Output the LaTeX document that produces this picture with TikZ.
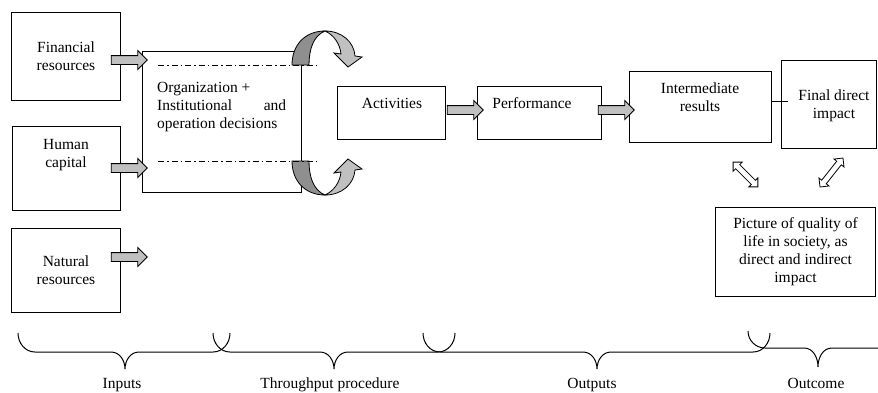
\documentclass[tikz,border=0pt]{standalone}
\usepackage{fontspec}
\setmainfont{Liberation Serif}
\usetikzlibrary{shapes.arrows,positioning}
\definecolor{arrowgray}{RGB}{192,192,192}
\definecolor{darkgray}{RGB}{143,143,143}
\tikzset{
    every node/.style={font=\fontsize{15.5}{18}\selectfont, inner sep=0pt, align=center}
}
\tikzset{
    box/.style={draw, line width=1pt, anchor=north west},
    barrow/.style={single arrow, draw, line width=0.8pt, fill=arrowgray, minimum height=36pt,
        inner xsep=0pt, inner ysep=4pt, single arrow head extend=5pt},
    darrow/.style={double arrow, draw, line width=0.8pt, fill=white, minimum height=35pt,
        inner xsep=0pt, inner ysep=2.5pt, double arrow head extend=3.5pt},
    brc/.style={line width=1pt},
    dashdot/.style={line width=0.8pt, dash pattern=on 6pt off 3pt on 1.5pt off 3pt}
}

\begin{document}
\begin{tikzpicture}[x=1pt, y=1pt]
    \useasboundingbox (0,0) rectangle (878,-392);

    % inputs
    \node (fin) [box, minimum width=109pt, minimum height=88pt] at (11,-12) {Financial\\resources};
    \node (hum) [box, minimum width=108pt, minimum height=84pt] at (12,-126) {};
    \node (humtxt) [anchor=base] at (66,-167) {Human\\capital};
    \node (nat) [box, minimum width=109pt, minimum height=84pt] at (11,-228) {Natural\\resources};

    % throughput
    \node (org) [box, minimum width=159pt, minimum height=141pt] at (142,-51) {};
    \node (orgtxt) [anchor=base west, align=left] at (157,-128)
        {Organization +\\\hbox to 129pt{Institutional\hfill and}\\operation decisions};

    % outputs
    \node (act) [box, minimum width=108pt, minimum height=53pt] at (337,-86) {};
    \node (acttxt) [anchor=base] at (392,-108) {Activities};
    \node (perf) [box, minimum width=124pt, minimum height=53pt] at (477,-86) {};
    \node (perftxt) [anchor=base] at (532,-108) {Performance};
    \node (int) [box, minimum width=142pt, minimum height=71pt] at (629,-71) {};
    \node (inttxt) [anchor=base] at (700,-111) {Intermediate\\results};

    % outcome
    \node (fd) [box, minimum width=95pt, minimum height=88pt] at (781,-60) {};
    \node (fdtxt) [anchor=base] at (834,-118) {Final direct\\impact};
    \node (pic) [box, minimum width=160pt, minimum height=89pt] at (715,-207)
        {Picture of quality of\\life in society, as\\direct and indirect\\impact};

    % block arrows
    \node (a1) [barrow] at (127,-60) {};
    \node (a2) [barrow] at (127,-168) {};
    \node (a3) [barrow] at (127,-257) {};
    \node (a4) [barrow] at (463,-110) {};
    \node (a5) [barrow] at (614,-110) {};

    \draw[line width=1pt] ([yshift=5.5pt]int.east) -- ([xshift=7pt, yshift=3pt]fd.west);

    \node (d1) [darrow, rotate=-45] at (745.5,-174.5) {};
    \node (d2) [darrow, rotate=51.6, minimum height=37pt] at (831.5,-172.5) {};

    % curved arrows
    \draw[line width=0.8pt, fill=darkgray] (292,-65) .. controls (292,-45) and (305,-31) .. (325,-31)
        .. controls (313,-36) and (309,-50) .. (309,-65) -- cycle;
    \draw[line width=0.8pt, fill=arrowgray] (325,-31) .. controls (342,-31) and (354,-42) .. (355,-56)
        -- (362,-57) -- (348,-67) -- (334,-53) -- (341,-54)
        .. controls (340,-44) and (334,-35) .. (325,-31) -- cycle;

    \draw[line width=0.8pt, fill=darkgray] (292,-161) .. controls (292,-181) and (305,-195) .. (325,-195)
        .. controls (313,-190) and (309,-176) .. (309,-161) -- cycle;
    \draw[line width=0.8pt, fill=arrowgray] (325,-195) .. controls (342,-195) and (354,-184) .. (355,-170)
        -- (362,-169) -- (348,-159) -- (334,-173) -- (341,-172)
        .. controls (340,-182) and (334,-191) .. (325,-195) -- cycle;

    \draw[dashdot] (158,-65) -- (317,-65);
    \draw[dashdot] (158,-161) -- (317,-161);

    % braces
    \draw[brc] (18,-333) to[out=-90,in=180] (35,-352) -- (111,-352) to[out=0,in=90] (125,-369)
        to[out=90,in=180] (139,-352) -- (213,-352) to[out=0,in=-90] (230,-333);
    \draw[brc] (213,-333) to[out=-90,in=180] (230,-352) -- (320,-352) to[out=0,in=90] (334,-369)
        to[out=90,in=180] (348,-352) -- (438,-352) to[out=0,in=-90] (455,-333);
    \draw[brc] (423,-333) to[out=-90,in=180] (440,-352) -- (583,-352) to[out=0,in=90] (597,-369)
        to[out=90,in=180] (611,-352) -- (753,-352) to[out=0,in=-90] (770,-333);
    \draw[brc] (748,-331) to[out=-90,in=180] (765,-348) -- (804,-348) to[out=0,in=90] (818,-367)
        to[out=90,in=180] (832,-348) -- (890,-348);

    \node (lin) [anchor=base] at (122,-388) {Inputs};
    \node (lthr) [anchor=base] at (330,-388) {Throughput procedure};
    \node (lout) [anchor=base] at (592,-388) {Outputs};
    \node (loc) [anchor=base] at (816,-388) {Outcome};
\end{tikzpicture}
\end{document}
